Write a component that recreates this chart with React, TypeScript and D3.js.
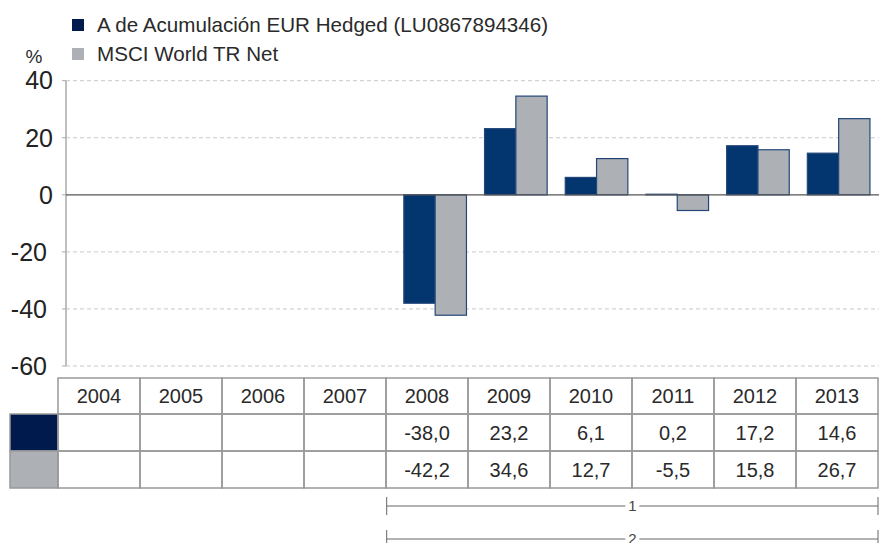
import React from "react";
import * as d3 from "d3";

const years = ["2004", "2005", "2006", "2007", "2008", "2009", "2010", "2011", "2012", "2013"];
const fundValues = [null, null, null, null, -38.0, 23.2, 6.1, 0.2, 17.2, 14.6];
const indexValues = [null, null, null, null, -42.2, 34.6, 12.7, -5.5, 15.8, 26.7];
const seriesNames = ["A de Acumulación EUR Hedged (LU0867894346)", "MSCI World TR Net"];
const yTicks = [40, 20, 0, -20, -40, -60];
const brackets = [
  { label: "1", from: "2008", to: "2013" },
  { label: "2", from: "2008", to: "2013" }
];

const width = 879;
const height = 543;
const font = "'Liberation Sans', Arial, sans-serif";
const colors = { fund: "#03356f", index: "#adb0b4", fundSwatch: "#001a4d" };

// comma decimals, plain hyphen for negatives
const fmt = (v: number | null) =>
  v == null ? "" : d3.format(".1f")(v).replace(".", ",").replace("\u2212", "-");

export default function App() {
  const series = [
    { key: "fund", name: seriesNames[0], values: fundValues, fill: colors.fund, swatch: colors.fundSwatch },
    { key: "index", name: seriesNames[1], values: indexValues, fill: colors.index, swatch: colors.index }
  ];

  // chart scales
  const y = d3.scaleLinear().domain([-60, 40]).range([366, 80.7]);
  const x0 = d3.scaleBand().domain(years).range([72, 879]).padding(0);
  const x1 = d3
    .scaleBand()
    .domain(series.map(s => s.key))
    .range([x0.bandwidth() * 0.112, x0.bandwidth() * 0.888]);

  // table scale
  const tx = d3.scaleBand().domain(years).range([58, 878]);
  const rowTop = [378, 414, 451, 488];
  const axisX = 66;

  return (
    <svg width={width} height={height} style={{ position: "absolute", left: 0, top: 0 }} fontFamily={font}>
      {/* legend */}
      {series.map((s, i) => (
        <g key={s.key} transform={`translate(72, ${19 + i * 29})`}>
          <rect width={12} height={12} fill={s.swatch} />
          <text x={25} y={13} fontSize={20.6} fill="#2a2a2a">
            {s.name}
          </text>
        </g>
      ))}
      <text x={34} y={63} fontSize={19} fill="#2a2a2a" textAnchor="middle">
        %
      </text>

      {/* grid + y labels */}
      {yTicks.map(t => (
        <g key={t}>
          {t !== 0 && (
            <line x1={axisX} x2={width} y1={y(t)} y2={y(t)} stroke="#c8c8c8" strokeDasharray="4,3" />
          )}
          <line x1={axisX - 4} x2={axisX} y1={y(t)} y2={y(t)} stroke="#aaa" />
          <text
            x={t < 0 ? 47 : 53}
            y={y(t)}
            dy="0.35em"
            fontSize={25}
            textAnchor="end"
            fill="#222"
          >
            {t}
          </text>
        </g>
      ))}
      <line x1={axisX} x2={axisX} y1={y(40)} y2={y(-60)} stroke="#aaa" strokeWidth={1.5} />

      {/* bars */}
      {years.map((yr, i) => (
        <g key={yr} transform={`translate(${x0(yr)},0)`}>
          {series.map(s => {
            const v = s.values[i];
            if (v == null) return null;
            return (
              <rect
                key={s.key}
                x={x1(s.key)}
                width={x1.bandwidth()}
                y={y(Math.max(0, v))}
                height={Math.abs(y(v) - y(0))}
                fill={s.fill}
                stroke="#24477a"
                strokeWidth={1.2}
              />
            );
          })}
        </g>
      ))}
      <line x1={axisX} x2={width} y1={y(0)} y2={y(0)} stroke="#555" strokeWidth={1.2} />

      {/* table */}
      <g fontSize={20} fill="#2a2a2a" textAnchor="middle">
        {series.map((s, i) => (
          <rect
            key={s.key}
            x={10}
            y={rowTop[i + 1]}
            width={48}
            height={rowTop[i + 2] - rowTop[i + 1]}
            fill={s.swatch}
            stroke="#999"
            strokeWidth={1.5}
          />
        ))}
        {years.map((yr, i) => (
          <g key={yr}>
            {[0, 1, 2].map(r => (
              <rect
                key={r}
                x={tx(yr)}
                y={rowTop[r]}
                width={tx.bandwidth()}
                height={rowTop[r + 1] - rowTop[r]}
                fill="none"
                stroke="#999"
                strokeWidth={1.5}
              />
            ))}
            <text x={tx(yr)! + tx.bandwidth() / 2} y={(rowTop[0] + rowTop[1]) / 2} dy="0.36em">
              {yr}
            </text>
            {series.map((s, r) => (
              <text
                key={s.key}
                x={tx(yr)! + tx.bandwidth() / 2}
                y={(rowTop[r + 1] + rowTop[r + 2]) / 2}
                dy="0.36em"
              >
                {fmt(s.values[i])}
              </text>
            ))}
          </g>
        ))}
      </g>

      {/* period brackets */}
      {brackets.map((b, i) => {
        const xa = tx(b.from)! + 0.7;
        const xb = tx(b.to)! + tx.bandwidth();
        const yy = 506 + i * 33;
        const mid = (xa + xb) / 2;
        return (
          <g key={i} stroke="#666" fill="#444">
            <line x1={xa} x2={mid - 7} y1={yy} y2={yy} />
            <line x1={mid + 7} x2={xb} y1={yy} y2={yy} />
            <line x1={xa} x2={xa} y1={yy - 9} y2={yy + 9} />
            <line x1={xb} x2={xb} y1={yy - 9} y2={yy + 9} />
            <text x={mid} y={yy} dy="0.36em" fontSize={15} textAnchor="middle" stroke="none">
              {b.label}
            </text>
          </g>
        );
      })}
    </svg>
  );
}
